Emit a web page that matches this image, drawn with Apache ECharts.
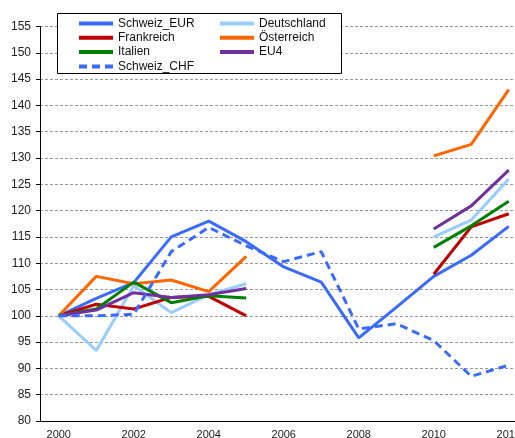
<!DOCTYPE html>
<html>
<head>
<meta charset="utf-8">
<script src="https://cdn.jsdelivr.net/npm/echarts@6/dist/echarts.min.js"></script>
<style>
html,body{margin:0;padding:0;background:#fff;}
#c{width:515px;height:438px;}
</style>
</head>
<body>
<div id="c"></div>
<script>
const years = ['2000','2001','2002','2003','2004','2005','2006','2007','2008','2009','2010','2011','2012'];
const schweizEUR = [100, 103.3, 106.3, 115.0, 118.0, 114.1, 109.3, 106.4, 95.8, 101.6, 107.5, 111.5, 117.0];
const deutschland = [100, 93.4, 105.7, 100.6, 104.0, 106.1, null, null, null, null, 115.0, 118.2, 126.0];
const frankreich = [100, 102.2, 101.3, 103.5, 103.7, 100.0, null, null, null, null, 107.9, 116.9, 119.4];
const oesterreich = [100, 107.5, 106.1, 106.8, 104.6, 111.3, null, null, null, null, 130.4, 132.6, 143.0];
const italien = [100, 101.3, 106.4, 102.5, 103.8, 103.4, null, null, null, null, 113.0, 117.1, 121.8];
const eu4 = [100, 101.1, 104.4, 103.5, 104.0, 105.2, null, null, null, null, 116.5, 120.9, 127.7];
const schweizCHF = [100, 100.0, 100.3, 112.2, 116.8, 113.3, 110.3, 112.2, 97.5, 98.5, 95.3, 88.5, 90.6];
const yTicks = {min: 80, max: 155, step: 5};

const FONT = 'Liberation Sans';
function line(name, data, color, dashed) {
  return {
    name: name, type: 'line', data: data, symbol: 'none', connectNulls: false,
    lineStyle: {color: color, width: 3, type: dashed ? [8, 5] : 'solid'},
    itemStyle: {color: color}, animation: false
  };
}
const legendCommon = {
  orient: 'vertical', top: 17.5, padding: 0, itemWidth: 34, itemHeight: 14, itemGap: 2.3, z: 100,
  lineStyle: {width: 4}, itemStyle: {opacity: 0},
  textStyle: {fontFamily: FONT, fontSize: 12, color: '#111'}
};
const chart = echarts.init(document.getElementById('c'), null, {renderer: 'canvas'});
chart.setOption({
  animation: false,
  backgroundColor: '#fff',
  grid: {left: 40, top: 26.5, bottom: 17, width: 487.5, outerBoundsMode: 'none', containLabel: false},
  graphic: [{type: 'rect', shape: {x: 57.5, y: 13.5, width: 284, height: 60},
    style: {fill: '#fff', stroke: '#000', lineWidth: 1}, z: 90}],
  legend: [
    Object.assign({data: ['Schweiz_EUR', 'Frankreich', 'Italien', 'Schweiz_CHF'], left: 77}, legendCommon),
    Object.assign({data: ['Deutschland', 'Österreich', 'EU4'], left: 218}, legendCommon)
  ],
  xAxis: {
    type: 'category', data: years, boundaryGap: true,
    axisLine: {lineStyle: {color: '#000', width: 1}},
    axisTick: {interval: 0, length: 3, lineStyle: {color: '#000'}},
    axisLabel: {interval: 1, margin: 8, fontFamily: FONT, fontSize: 11, color: '#222'},
    splitLine: {show: false}
  },
  yAxis: {
    type: 'value', min: yTicks.min, max: yTicks.max, interval: yTicks.step,
    axisLine: {show: true, lineStyle: {color: '#000', width: 1}},
    axisTick: {show: true, length: 4, lineStyle: {color: '#000'}},
    axisLabel: {margin: 9, fontFamily: FONT, fontSize: 12, color: '#222'},
    splitLine: {lineStyle: {color: '#999', type: [3, 2], width: 1}}
  },
  series: [
    line('Schweiz_EUR', schweizEUR, '#3A6BFF', false),
    line('Deutschland', deutschland, '#99CCFF', false),
    line('Frankreich', frankreich, '#C00000', false),
    line('Österreich', oesterreich, '#FF6600', false),
    line('Italien', italien, '#008000', false),
    line('EU4', eu4, '#7030A0', false),
    line('Schweiz_CHF', schweizCHF, '#3A6BFF', true)
  ]
});
</script>
</body>
</html>
